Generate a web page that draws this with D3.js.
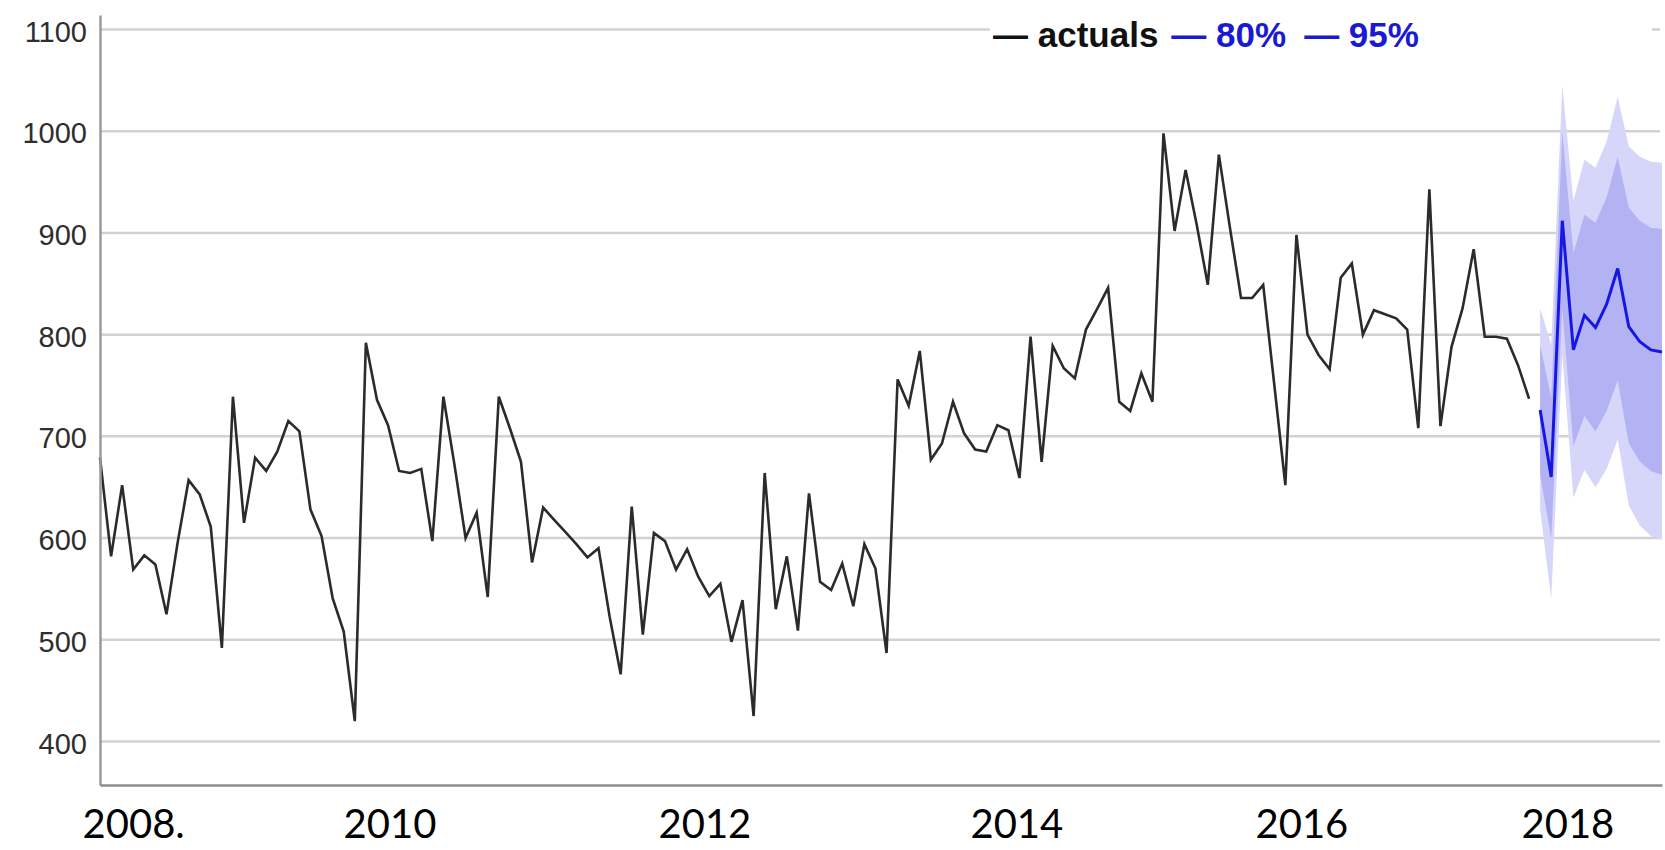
<!DOCTYPE html>
<html>
<head>
<meta charset="utf-8">
<script src="https://cdn.jsdelivr.net/npm/d3@7"></script>
<style>
  html, body { margin: 0; padding: 0; background: #ffffff; }
  svg { display: block; }
</style>
</head>
<body>
<svg id="chart" width="1665" height="850"></svg>
<script>
// ---------------- data ----------------
// monthly actuals, month index 0..129
const actuals = [
  679, 582, 652, 569, 583, 574, 525, 595, 657, 643, 611, 492,
  739, 615, 679, 666, 685, 715, 705, 628, 602, 541, 508, 420,
  792, 736, 711, 666, 664, 668, 597, 739, 672, 600, 625, 542,
  739, 708, 675, 576, 630, 618, 606, 594, 581, 590, 523, 466,
  631, 505, 605, 597, 569, 589, 562, 543, 555, 498, 539, 425,
  664, 530, 582, 509, 644, 557, 549, 575, 533, 594, 570, 487,
  756, 730, 784, 677, 693, 734, 703, 687, 685, 711, 706, 659,
  798, 675, 789, 767, 757, 805, 825, 846, 734, 725, 762, 734,
  998, 902, 962, 908, 849, 977, 905, 836, 836, 849, 751, 652,
  898, 800, 780, 766, 856, 870, 800, 824, 820, 816, 805, 708,
  943, 710, 788, 826, 884, 798, 798, 796, 770, 737
];
// forecast, month index 130..141
const forecastMean = [726, 660, 912, 785, 819, 807, 830, 865, 808, 793, 785, 783];
const lo80 = [662, 600, 825, 690, 720, 705, 725, 755, 693, 675, 666, 662];
const hi80 = [790, 738, 999, 880, 918, 910, 935, 975, 925, 912, 905, 904];
const lo95 = [628, 540, 780, 640, 667, 650, 668, 697, 632, 612, 602, 598];
const hi95 = [826, 790, 1045, 932, 972, 964, 990, 1034, 985, 975, 970, 969];

const yTicks = [400, 500, 600, 700, 800, 900, 1000, 1100];
const xLabels = ["2008.", "2010", "2012", "2014", "2016", "2018"];
const xLabelAt = [-1.62, 21.94, 50.37, 78.53, 104.26, 128.27]; // month index where each label starts
const legendItems = ["actuals", "80%", "95%"];

// ---------------- layout ----------------
const svg = d3.select("#chart");
const mLeft = 100, mRight = 1662, mTop = 15, mBottom = 785;
const nTotal = actuals.length + forecastMean.length;

const x = d3.scaleLinear().domain([0, nTotal - 1]).range([mLeft, mRight]);
const y = d3.scaleLinear().domain([357.2, 1114.3]).range([mBottom, mTop]);

const actualData = actuals.map((v, i) => ({ i, v }));
const fStart = actuals.length;
const fcData = forecastMean.map((v, k) => ({
  i: fStart + k, v, lo80: lo80[k], hi80: hi80[k], lo95: lo95[k], hi95: hi95[k]
}));

// gridlines
svg.append("g")
  .selectAll("line")
  .data(yTicks)
  .join("line")
  .attr("x1", mLeft).attr("x2", mRight - 2)
  .attr("y1", d => y(d)).attr("y2", d => y(d))
  .attr("stroke", "#d2d2d2")
  .attr("stroke-width", 2.5);

// forecast bands
svg.append("path")
  .datum(fcData)
  .attr("fill", "#d6d6fb")
  .attr("d", d3.area().x(d => x(d.i)).y0(d => y(d.lo95)).y1(d => y(d.hi95)));
svg.append("path")
  .datum(fcData)
  .attr("fill", "#b3b3f4")
  .attr("d", d3.area().x(d => x(d.i)).y0(d => y(d.lo80)).y1(d => y(d.hi80)));

// actuals line
svg.append("path")
  .datum(actualData)
  .attr("fill", "none")
  .attr("stroke", "#2b2b2b")
  .attr("stroke-width", 2.6)
  .attr("d", d3.line().x(d => x(d.i)).y(d => y(d.v)));

// forecast line
svg.append("path")
  .datum(fcData)
  .attr("fill", "none")
  .attr("stroke", "#1717e4")
  .attr("stroke-width", 3)
  .attr("d", d3.line().x(d => x(d.i)).y(d => y(d.v)));

// y axis
const yAxis = svg.append("g")
  .attr("transform", `translate(${mLeft},0)`)
  .call(d3.axisLeft(y).tickValues(yTicks).tickSize(0).tickSizeOuter(0).tickPadding(13).tickFormat(d3.format("d")));
yAxis.select(".domain").attr("stroke", "#9a9a9a").attr("stroke-width", 2.5);
yAxis.selectAll("text")
  .attr("font-family", "'Liberation Sans', Arial, sans-serif")
  .attr("font-size", 29)
  .attr("fill", "#2e2e2e")
  .attr("dy", "0.4em");

// x axis
const xAxis = svg.append("g")
  .attr("transform", `translate(0,${mBottom})`)
  .call(d3.axisBottom(x).tickValues(xLabelAt).tickSize(0).tickSizeOuter(0)
    .tickFormat((d, i) => xLabels[i]));
xAxis.select(".domain").attr("stroke", "#8e8e8e").attr("stroke-width", 2.5);
xAxis.selectAll("text")
  .attr("font-family", "Lato, 'Open Sans', sans-serif")
  .attr("font-size", 40)
  .attr("fill", "#000")
  .attr("text-anchor", "start")
  .attr("y", 53)
  .attr("dy", 0);

// legend
svg.append("rect")
  .attr("x", 990).attr("y", 8).attr("width", 662).attr("height", 50)
  .attr("fill", "#ffffff");
const legendColors = ["#111111", "#1a1ad2", "#1a1ad2"];
const legendGaps = [0, 13, 18];
const lg = svg.append("text")
  .attr("x", 993).attr("y", 47)
  .attr("font-family", "'Liberation Sans', Arial, sans-serif")
  .attr("font-weight", "bold")
  .attr("font-size", 35)
  .attr("xml:space", "preserve");
legendItems.forEach((name, k) => {
  lg.append("tspan").attr("dx", legendGaps[k]).attr("fill", legendColors[k]).text("\u2014");
  lg.append("tspan").attr("fill", legendColors[k]).text(" " + name);
});
</script>
</body>
</html>
